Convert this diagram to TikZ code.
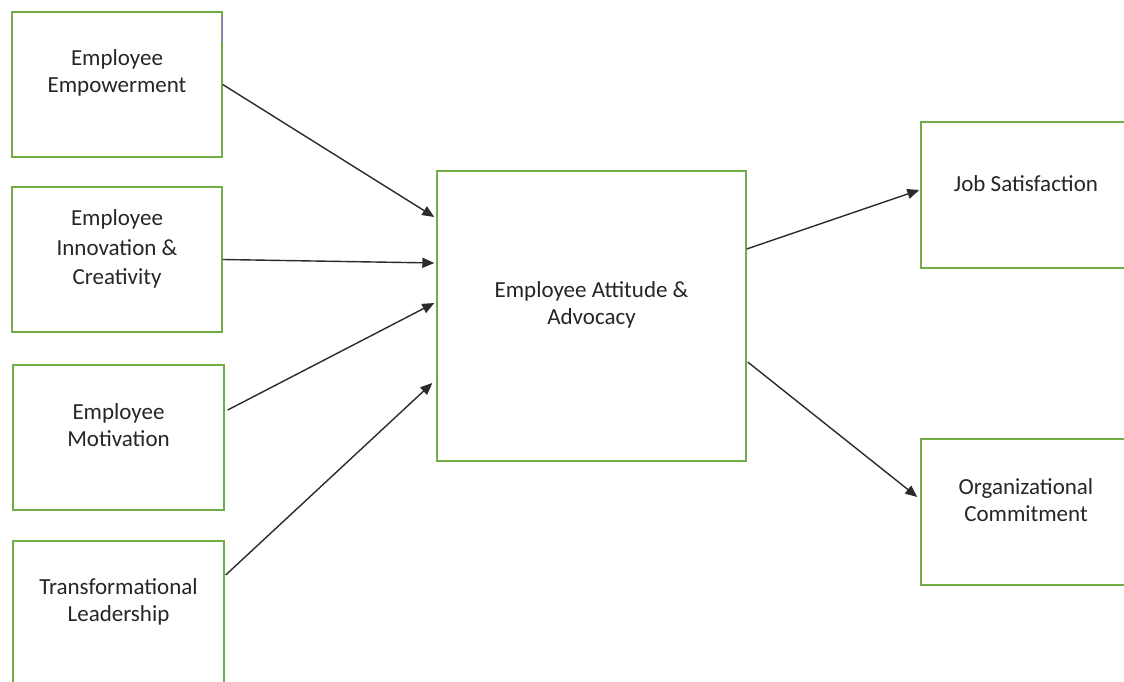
\documentclass[tikz,border=0pt]{standalone}
\usepackage{fontspec}
\setmainfont{Carlito}
\usetikzlibrary{arrows.meta}
\definecolor{BoxGreen}{HTML}{70AD47}
\definecolor{ArrowGrey}{HTML}{2B2B2B}
\definecolor{LabelText}{HTML}{262626}
\definecolor{MarkPurple}{HTML}{9E5FD6}

\begin{document}
\begin{tikzpicture}[x=1pt,y=-1pt,>={Triangle[length=12pt,width=10pt]},
  box/.style={draw=BoxGreen,line width=1.4pt,minimum width=210pt,minimum height=145pt,inner sep=0pt},
  boxtext/.style={font=\fontsize{23}{27}\selectfont,text=LabelText,align=center},
  link/.style={->,ArrowGrey,line width=1.4pt}]
\useasboundingbox (0,0) rectangle (1124,682); \clip (0,0) rectangle (1124,682); \fill[white] (0,0) rectangle (1124,682);
% drivers on the left
\node[box] (emp) at (117,84.5){}; \node[boxtext] (empt) at ([yshift=12pt]emp.center){Employee\\Empowerment};
\node[box] (inn) at (117,259.5){}; \node[boxtext,font=\fontsize{23}{29.5}\selectfont] (innt) at ([yshift=10.5pt]inn.center){Employee\\Innovation \&\\Creativity};
\node[box,minimum width=211pt] (mot) at (118.5,437.5){}; \node[boxtext] (mott) at ([yshift=12pt]mot.center){Employee\\Motivation};
\node[box,minimum width=211pt] (trl) at (118.5,613.5){}; \node[boxtext] (trlt) at ([yshift=12pt]trl.center){Transformational\\Leadership};
\draw[MarkPurple,line width=1.4pt] ([yshift=-5pt]emp.north east)--([yshift=-31pt]emp.north east);
% mediator and outcomes
\node[box,minimum width=309pt,minimum height=290pt] (att) at (591.5,316){}; \node[boxtext] (attt) at ([yshift=11.5pt]att.center){Employee Attitude \&\\Advocacy};
\node[box,minimum height=146pt] (job) at (1026,195){}; \node[boxtext] (jobt) at ([yshift=11.5pt]job.center){Job Satisfaction};
\node[box,minimum height=146pt] (org) at (1026,512){}; \node[boxtext] (orgt) at ([yshift=12pt]org.center){Organizational\\Commitment};
% arrows
\draw[link] (emp.east)--([xshift=-2pt,yshift=99pt]att.west);
\draw[link] (inn.east)--([xshift=-2pt,yshift=53pt]att.west);
\draw[link] ([xshift=3pt,yshift=27.5pt]mot.east)--([xshift=-2pt,yshift=13pt]att.west);
\draw[link] ([xshift=1pt,yshift=38.5pt]trl.east)--([xshift=-4pt,yshift=-67pt]att.west);
\draw[link] ([yshift=67pt]att.east)--([xshift=-1pt,yshift=5pt]job.west);
\draw[link] ([xshift=1pt,yshift=-46pt]att.east)--([xshift=-3pt,yshift=15pt]org.west);
\end{tikzpicture}
\end{document}
